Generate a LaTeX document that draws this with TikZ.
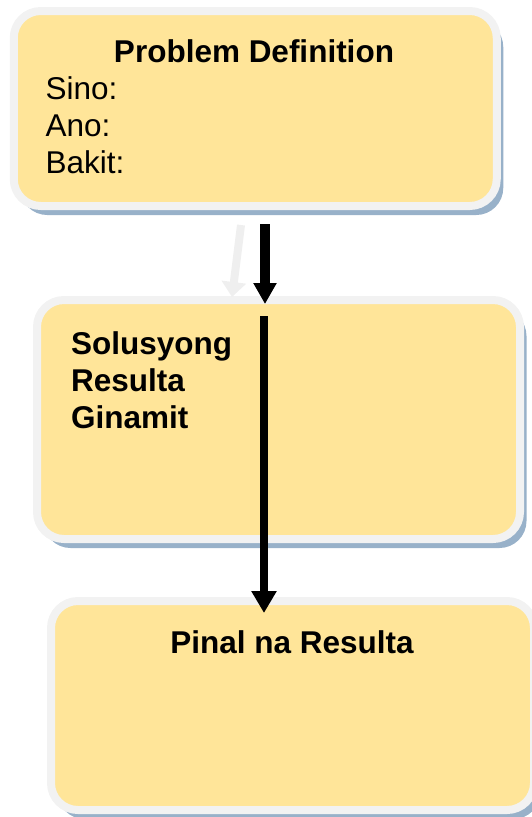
\documentclass[tikz,border=0pt]{standalone}
\usepackage{fontspec}
\setmainfont{Liberation Sans}
\usetikzlibrary{arrows.meta,shadows}

\definecolor{boxyellow}{HTML}{FFE599}
\definecolor{rimgrey}{HTML}{F2F2F2}
\definecolor{shadowblue}{HTML}{98B1C9}
\definecolor{ghostgrey}{HTML}{EFEFEF}

\tikzstyle{stage}=[draw=rimgrey, line width=8pt, fill=boxyellow, rounded corners=27pt, minimum width=483pt,
  drop shadow={shadow xshift=6.5pt, shadow yshift=-9pt, fill=shadowblue, opacity=1}]
\tikzstyle{heading}=[anchor=base, inner sep=0pt, font=\fontsize{31.5}{37}\selectfont\bfseries]
\tikzstyle{entry}=[anchor=base west, inner sep=0pt, font=\fontsize{31.5}{37}\selectfont]
\tikzstyle{entryb}=[entry, font=\fontsize{31.5}{37}\selectfont\bfseries]
\tikzstyle{flow}=[line width=9pt, -{Triangle[width=22pt, length=21pt]}]

\begin{document}
\begin{tikzpicture}[x=1pt, y=-1pt]
      \useasboundingbox (0, 0) rectangle (532, 817);

      \node[stage, minimum height=195pt] (def) at (255.25, 108.5) {};
      \node[stage, minimum height=239pt] (sol) at (278.5, 419.5) {};
      \node[stage, minimum height=209pt] (pinal) at (292.5, 705.5) {};

      \node[heading] (deftitle) at (254, 62.5) {Problem Definition};
      \node[entry] (sino) at (45.5, 99.5) {Sino:};
      \node[entry] (ano) at (45.5, 136.5) {Ano:};
      \node[entry] (bakit) at (45.5, 173) {Bakit:};

      \node[entryb] (solusyong) at (71, 354) {Solusyong};
      \node[entryb] (resulta) at (71, 391) {Resulta};
      \node[entryb] (ginamit) at (71, 428.5) {Ginamit};

      \node[heading] (pinaltitle) at (292, 653) {Pinal na Resulta};

      \draw[flow, line width=8pt, ghostgrey, -{Triangle[width=24pt, length=15pt]}]
        ([xshift=-14.25pt, yshift=-15pt]def.south) to ([xshift=-46.5pt, yshift=-1pt]sol.north);
      \draw[flow, line width=10.5pt] ([xshift=9.75pt, yshift=-14pt]def.south) to ([xshift=-13.5pt, yshift=-8pt]sol.north);
      \draw[flow, line width=8pt, -{Triangle[width=24pt, length=22pt]}]
        ([xshift=-14.5pt, yshift=-20pt]sol.north) to ([xshift=-28.5pt, yshift=-16pt]pinal.north);
    \end{tikzpicture}
\end{document}
